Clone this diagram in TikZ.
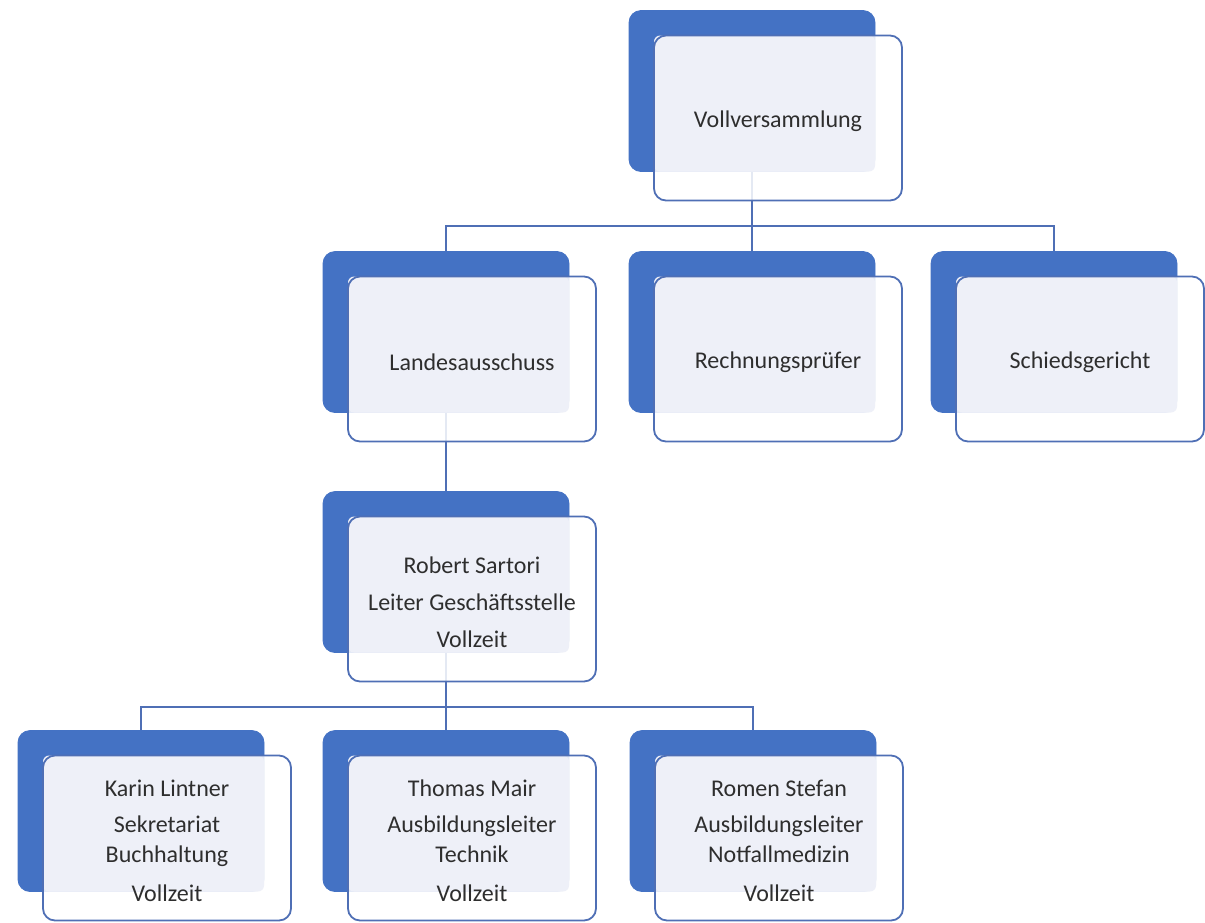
\documentclass[tikz,border=0pt]{standalone}
\usepackage{fontspec}
\setmainfont{Carlito}
\usepackage{tikz}
\pgfdeclarelayer{background}
\pgfsetlayers{background,main}
\definecolor{orgblue}{HTML}{4472C4}
\definecolor{orgline}{HTML}{4F6FB5}
\definecolor{orglav}{HTML}{EEF0F8}
\definecolor{orgtext}{HTML}{2E2E2E}
\tikzstyle{backbox}=[rectangle,rounded corners=6pt,fill=orgblue,draw=orgblue,minimum width=123pt,minimum height=80.5pt,inner sep=0pt,outer sep=0pt]
\tikzstyle{frontbox}=[rectangle,rounded corners=6pt,fill=white,fill opacity=0.85,minimum width=124pt,minimum height=82.5pt,inner sep=0pt,outer sep=0pt]
\tikzstyle{frontline}=[draw=orgline,line width=0.9pt,rounded corners=6pt]
\tikzstyle{lavfill}=[fill=orglav,rounded corners=3pt]
\tikzstyle{label}=[align=center,text=orgtext,font=\fontsize{12}{15}\selectfont]
\tikzstyle{edge}=[draw=orgline,line width=0.9pt,-]

\begin{document}
\begin{tikzpicture}[x=0.5pt,y=-0.5pt]
    \useasboundingbox (0,0) rectangle (1205,922);
    % First we draw the boxes
    \foreach \pos/\name in {{(752,91)/vv}, {(446,332)/la}, {(752,332)/rp}, {(1054,332)/sg}, {(446,572)/rs}, {(141,811)/kl}, {(446,811)/tm}, {(753,811)/rst}}
    {
        \node[backbox] (\name) at \pos {};
        \node[frontbox] (\name-f) at ([shift={(26,27)}]\name.center) {};
        \path[lavfill] (\name-f.north west) rectangle (\name.south east);
        \path[frontline] (\name-f.north west) rectangle (\name-f.south east);
    }

    % Then the texts
    \foreach \name/\txt in {vv/{Vollversammlung}, la/{Landesausschuss}, rp/{Rechnungsprüfer}, sg/{Schiedsgericht},
        rs/{Robert Sartori\\[3.5pt]Leiter Geschäftsstelle\\[3.5pt]Vollzeit},
        kl/{Karin Lintner\\[3pt]Sekretariat\\Buchhaltung\\[4.5pt]Vollzeit},
        tm/{Thomas Mair\\[3pt]Ausbildungsleiter\\Technik\\[4.5pt]Vollzeit},
        rst/{Romen Stefan\\[3pt]Ausbildungsleiter\\Notfallmedizin\\[4.5pt]Vollzeit}}
        \node[label] (\name-t) at ([yshift=-1.5pt]\name-f.center) {\txt};

    % Connect boxes with edges
    \begin{pgfonlayer}{background}
    \foreach \source/\dest/\bar in {vv/la/226, vv/rp/226, vv/sg/226, la/rs/450, rs/kl/707, rs/tm/707, rs/rst/707}
        \path[edge] (\source.south) -- (\source.south |- 0,\bar) -| (\dest.north);
    \end{pgfonlayer}
\end{tikzpicture}
\end{document}
